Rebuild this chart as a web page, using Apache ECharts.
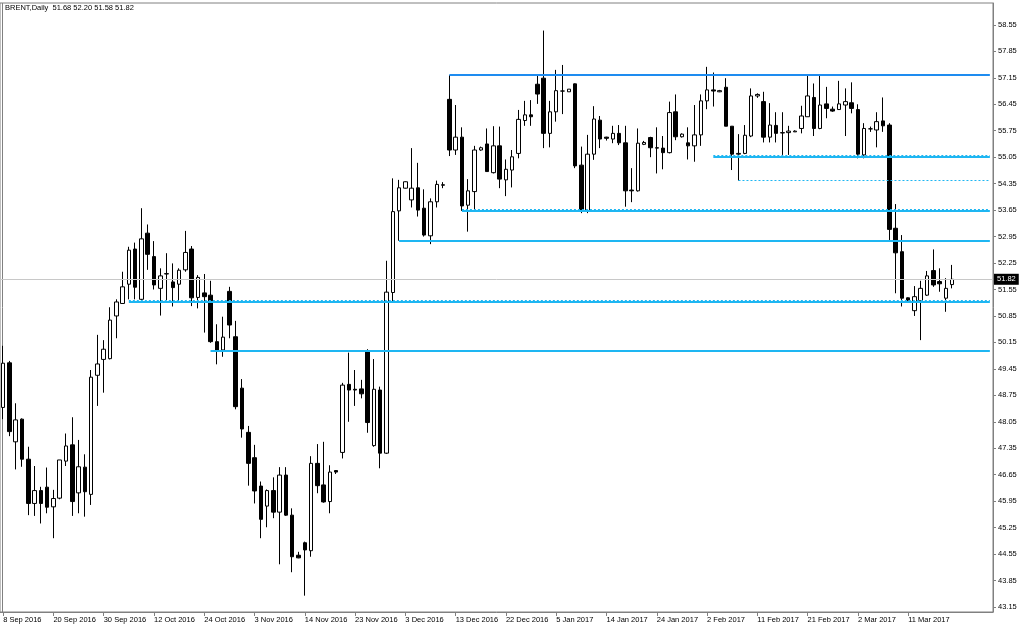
<!DOCTYPE html>
<html><head><meta charset="utf-8">
<script src="https://cdn.jsdelivr.net/npm/echarts@6/dist/echarts.min.js"></script>
<style>html,body{margin:0;padding:0;background:#fff}#c{width:1024px;height:630px}</style>
</head><body><div id="c"></div>
<script>
const chartTitle = 'BRENT,Daily  51.68 52.20 51.58 51.82';
const tickLabels = ['8 Sep 2016','20 Sep 2016','30 Sep 2016','12 Oct 2016','24 Oct 2016','3 Nov 2016','14 Nov 2016','23 Nov 2016','3 Dec 2016','13 Dec 2016','22 Dec 2016','5 Jan 2017','14 Jan 2017','24 Jan 2017','2 Feb 2017','11 Feb 2017','21 Feb 2017','2 Mar 2017','11 Mar 2017'];
const tickEvery = 8;
const emptySlots = 6;
const priceTicks = [43.15,43.85,44.55,45.25,45.95,46.65,47.35,48.05,48.75,49.45,50.15,50.85,51.55,52.25,52.95,53.65,54.35,55.05,55.75,56.45,57.15,57.85,58.55];

const opens = [48.43,49.61,47.52,48.12,47.06,45.89,46.23,46.32,45.80,46.03,47.01,47.44,46.17,46.85,46.13,49.28,49.70,49.72,50.85,51.18,
51.69,52.62,51.29,53.04,52.42,51.58,51.96,51.75,51.69,52.07,52.62,51.34,51.46,51.40,50.17,49.95,51.50,50.30,48.94,47.77,
47.10,46.35,45.82,46.23,45.66,46.64,45.58,44.52,44.85,44.64,46.95,46.38,45.94,46.76,47.24,49.04,48.91,48.92,49.90,47.42,
48.89,47.22,51.47,53.63,54.23,53.92,54.24,53.70,52.97,53.87,54.32,56.58,55.24,55.58,53.78,54.14,55.24,55.40,54.64,55.35,
54.45,54.71,55.15,56.02,56.17,56.98,57.14,55.68,56.25,56.80,56.78,56.99,54.84,53.63,55.13,56.03,55.58,55.53,55.68,55.43,
54.18,54.16,55.39,55.57,55.30,55.29,55.17,56.25,55.59,55.43,55.35,55.64,56.54,56.83,56.78,56.90,55.87,55.13,55.15,55.61,
56.67,56.52,55.58,55.89,55.69,55.70,55.72,55.81,56.12,56.63,55.81,56.46,56.32,56.31,56.43,56.49,56.31,55.11,55.80,55.77,
56.01,55.90,53.17,52.55,51.33,50.99,51.25,51.40,52.05,51.76,51.32,51.68];
const highs = [50.06,49.66,48.54,48.14,47.39,46.88,46.33,46.84,46.25,47.04,47.74,48.17,47.57,47.19,49.42,50.35,50.21,51.08,51.29,52.02,
52.68,52.79,53.70,53.27,52.83,52.11,52.51,52.24,52.11,53.10,52.70,51.93,51.96,51.78,50.63,50.83,51.62,50.72,49.18,47.94,
47.44,46.47,46.26,46.58,46.85,46.85,45.76,44.61,44.88,47.14,47.46,47.52,46.90,46.77,49.08,49.88,49.42,49.16,49.97,49.71,
48.98,52.31,54.49,54.45,54.41,55.29,54.90,54.20,53.96,54.43,54.39,57.22,56.43,55.84,54.47,55.35,55.33,55.81,55.87,55.86,
54.99,55.24,56.30,56.54,56.56,57.20,58.40,56.54,57.36,57.49,56.85,57.00,55.33,55.64,56.40,56.14,55.59,55.88,55.90,55.88,
54.76,55.81,55.48,55.59,55.84,55.61,56.52,56.71,55.68,55.84,56.43,56.71,57.44,57.29,56.83,57.14,55.87,55.66,55.90,56.87,
56.74,56.78,56.48,56.24,56.24,55.88,55.76,56.41,57.25,57.00,57.20,56.91,56.39,57.07,56.87,57.03,56.45,55.95,55.86,56.24,
56.63,55.95,53.81,52.99,51.34,51.64,51.78,52.04,52.61,52.11,51.85,52.20];
const lows = [48.12,47.67,46.79,46.86,45.58,45.56,45.36,45.63,44.97,46.00,46.88,45.56,45.63,45.54,45.85,48.47,48.82,49.70,50.26,51.18,
51.29,51.29,51.27,52.07,51.55,50.86,51.27,51.10,51.23,52.02,51.11,51.05,50.41,50.14,49.57,49.77,50.26,48.38,47.63,46.36,
45.89,44.97,45.26,45.50,44.28,45.56,44.07,44.44,43.45,44.48,46.16,45.91,45.63,46.67,47.08,48.05,48.47,48.67,47.76,47.39,
46.82,47.20,51.23,52.84,54.22,53.72,53.48,52.95,52.75,53.72,54.23,55.08,55.11,53.63,53.08,53.65,55.22,54.67,54.62,54.23,
54.02,54.25,55.02,55.88,55.88,56.46,55.29,55.31,55.99,56.19,56.78,54.76,53.57,53.57,54.98,55.29,55.49,55.42,55.37,53.74,
53.86,54.14,55.37,55.05,54.62,54.73,55.15,55.50,55.57,54.99,54.93,55.35,56.32,56.39,56.77,55.87,54.71,54.43,55.13,55.58,
56.62,55.44,55.44,55.44,55.11,55.11,55.72,55.68,56.12,55.61,55.79,56.08,56.25,56.30,55.61,56.21,55.02,55.02,55.72,55.31,
55.72,52.86,51.45,51.10,51.20,50.85,50.21,51.38,51.62,51.49,50.96,51.58];
const closes = [49.60,47.79,48.10,47.06,45.89,46.23,45.89,45.79,46.02,47.04,47.41,45.94,46.86,46.20,49.23,49.58,49.97,50.74,51.22,51.62,
52.59,51.61,52.89,52.48,51.67,51.91,51.97,51.60,52.06,52.53,51.33,51.87,51.36,50.17,49.93,50.29,50.61,48.45,47.86,46.95,
46.22,45.47,46.23,45.66,46.64,45.58,44.48,44.45,44.66,46.95,46.36,45.93,46.72,46.72,49.02,48.89,48.89,48.79,48.03,48.91,
47.22,51.48,53.61,54.24,54.40,54.23,53.65,52.99,53.87,54.33,54.31,55.24,55.58,53.76,54.16,55.24,55.30,54.67,55.35,54.47,
54.73,55.06,56.05,56.17,56.12,56.72,55.68,56.25,56.81,56.80,56.85,54.82,53.65,55.13,56.06,55.53,55.55,55.68,55.43,54.16,
54.16,55.42,55.44,55.30,55.29,55.17,56.23,55.59,55.66,55.35,55.64,56.54,56.83,56.80,56.81,55.87,55.13,55.15,55.63,56.67,
56.71,55.58,55.90,55.68,55.70,55.74,55.74,56.14,56.67,55.81,56.43,56.34,56.27,56.46,56.52,56.34,55.13,55.81,55.80,55.99,
55.88,53.14,52.52,51.32,51.27,51.36,51.58,51.91,51.67,51.70,51.58,51.82];

const levelStart = [71, 113, 113, 117, 73, 73, 63, 20, 20, 33];
const levelValue = [57.22, 55.06, 55.11, 54.45, 53.63, 53.68, 52.84, 51.23, 51.27, 49.92];
const levelKind  = ['major','solid','dash','dash','solid','dash','solid','solid','dash','solid'];
const lastPrice = 51.82;

const FONT = 'Liberation Sans';
const slotCount = opens.length + emptySlots;
const categories = Array.from({length: slotCount}, (_, i) =>
  (i % tickEvery === 0 && tickLabels[i / tickEvery]) ? tickLabels[i / tickEvery] : '');
const candles = opens.map((o, i) => [o, closes[i], lows[i], highs[i]]);
const lastSlot = slotCount - 1;
const levelStyles = {
  major: {color: '#1E8CF0', width: 2, type: 'solid'},
  solid: {color: '#1EB6F2', width: 2, type: 'solid'},
  dash:  {color: '#1EB6F2', width: 1, type: [2, 2]}
};
const levelLines = levelStart.map((s, i) => [
  {coord: [s, levelValue[i]], lineStyle: levelStyles[levelKind[i]]},
  {coord: [lastSlot, levelValue[i]]}
]);

const chart = echarts.init(document.getElementById('c'), null, {renderer: 'canvas'});
chart.setOption({
  animation: false,
  backgroundColor: '#ffffff',
  title: {
    text: chartTitle, left: 5, top: 4, padding: 0,
    textStyle: {fontFamily: FONT, fontSize: 7.5, fontWeight: 'normal', color: '#000'}
  },
  grid: {left: -0.5, right: 31, top: 3, bottom: 18, show: true, borderColor: '#808080', borderWidth: 1, backgroundColor: 'transparent'},
  xAxis: {
    type: 'category', data: categories, boundaryGap: true,
    axisLine: {show: true, lineStyle: {color: '#808080', width: 1}},
    axisTick: {show: true, alignWithLabel: true, length: 4, interval: (idx, v) => v !== '', lineStyle: {color: '#808080'}},
    axisLabel: {show: true, interval: (idx, v) => v !== '', align: 'left', margin: 4,
      fontFamily: FONT, fontSize: 7.5, color: '#000'},
    splitLine: {show: false}
  },
  yAxis: {
    type: 'value', position: 'right', min: 43.018, max: 59.129, scale: true,
    axisLine: {show: true, lineStyle: {color: '#808080', width: 1}},
    axisTick: {show: true, length: 3, customValues: priceTicks, lineStyle: {color: '#808080'}},
    axisLabel: {show: true, customValues: priceTicks, margin: 5, formatter: v => v.toFixed(2),
      fontFamily: FONT, fontSize: 7.5, color: '#000'},
    splitLine: {show: false}
  },
  graphic: [{type: 'line', shape: {x1: 2.5, y1: 3, x2: 2.5, y2: 612}, style: {stroke: '#808080', lineWidth: 1}, silent: true}],
  series: [
    {
      type: 'line', data: [], silent: true,
      markLine: {
        silent: true, symbol: ['none', 'none'], animation: false,
        lineStyle: {color: '#C8C8C8', width: 1, type: 'solid'},
        label: {show: true, position: 'end', distance: 1, formatter: lastPrice.toFixed(2),
          backgroundColor: '#000', color: '#fff', padding: [2, 3, 1, 3], fontFamily: FONT, fontSize: 7.5},
        data: [{yAxis: lastPrice}]
      },
      z: 1
    },
    {
      type: 'candlestick', data: candles, barWidth: 4, z: 3,
      itemStyle: {color: '#ffffff', color0: '#000000', borderColor: '#000000', borderColor0: '#000000', borderWidth: 1},
      markLine: {
        silent: true, symbol: ['none', 'none'], animation: false,
        label: {show: false},
        data: levelLines
      }
    }
  ]
});
</script></body></html>
